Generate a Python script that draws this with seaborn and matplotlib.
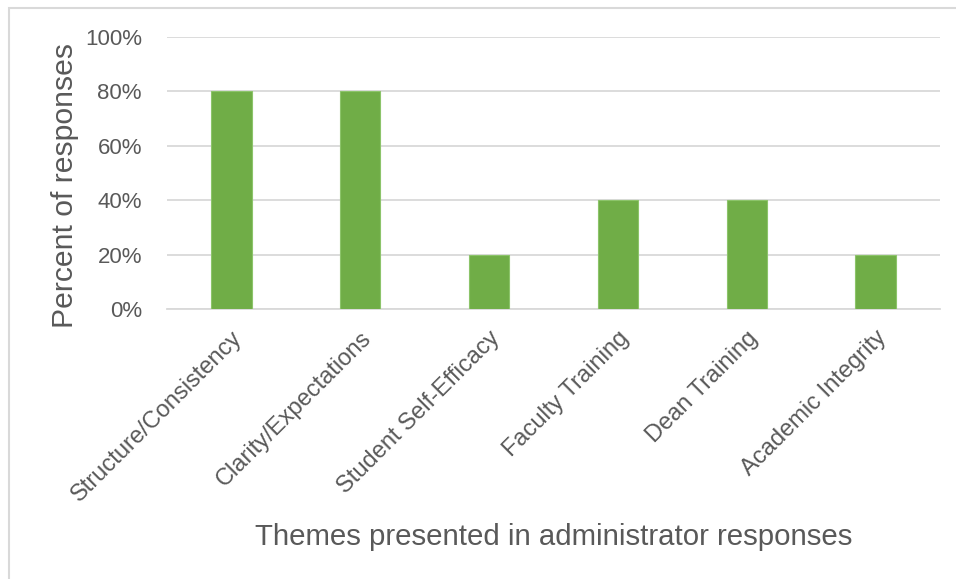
import matplotlib
matplotlib.use("Agg")
import matplotlib.pyplot as plt
import seaborn as sns
import pandas as pd
from matplotlib.patches import Rectangle
from matplotlib.ticker import PercentFormatter

# data
themes = ["Structure/Consistency", "Clarity/Expectations", "Student Self-Efficacy",
          "Faculty Training", "Dean Training", "Academic Integrity"]
percents = [80, 80, 20, 40, 40, 20]
y_ticks = [0, 20, 40, 60, 80, 100]

sns.set_theme(style="white")
plt.rcParams['font.family'] = ['Liberation Sans', 'DejaVu Sans']

df = pd.DataFrame({"theme": themes, "pct": percents})

fig = plt.figure(figsize=(9.56, 5.79), dpi=100)
ax = fig.add_axes([167 / 956, 1 - 309 / 579, (940 - 167) / 956, (309 - 37) / 579])

sns.barplot(data=df, x="theme", y="pct", color="#70AD47", width=0.314,
            saturation=1, edgecolor="#8CC46A", linewidth=0.8, ax=ax, zorder=3)

ax.set_ylim(0, 100)
ax.set_xlim(-0.5, len(themes) - 0.5)
ax.set_yticks(y_ticks)
ax.yaxis.set_major_formatter(PercentFormatter(decimals=0))
ax.yaxis.grid(True, color="#D9D9D9", linewidth=1.3, zorder=0)
ax.set_axisbelow(True)
for s in ["top", "right", "left"]:
    ax.spines[s].set_visible(False)
ax.spines["bottom"].set_color("#D9D9D9")
ax.spines["bottom"].set_linewidth(1.3)

ax.tick_params(axis="both", length=0, labelcolor="#595959")
ax.tick_params(axis="y", pad=18, labelsize=16)
ax.tick_params(axis="x", pad=13, labelsize=17)
plt.setp(ax.get_xticklabels(), rotation=45, ha="right", rotation_mode="anchor")

ax.set_ylabel("Percent of responses", fontsize=21.7, color="#595959")
ax.yaxis.set_label_coords(-88 / 773, (309 - 185) / 272)
ax.set_xlabel("Themes presented in administrator responses", fontsize=21.2,
              color="#595959", labelpad=12)

# thin frame around the chart area like the source image
fig.patches.append(Rectangle((9 / 956, -0.05), 1.1, 1 - 8 / 579 + 0.05,
                             transform=fig.transFigure, fill=False,
                             edgecolor="#D9D9D9", linewidth=1.5))

fig.savefig("out.png", dpi=100)
